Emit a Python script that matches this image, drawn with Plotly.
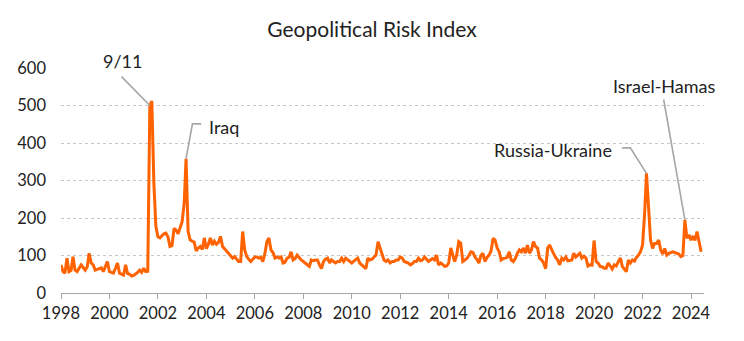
import pandas as pd
import plotly.graph_objects as go

start_month = "1998-01-01"

gpr_1998 = [75, 57, 53, 93, 57, 60, 97, 61, 57, 66, 75, 68]
gpr_1999 = [61, 70, 106, 80, 75, 61, 63, 65, 67, 57, 70, 84]
gpr_2000 = [57, 55, 53, 66, 80, 53, 50, 48, 75, 52, 50, 45]
gpr_2001 = [47, 50, 55, 61, 55, 66, 57, 58, 500, 512, 292, 178]
gpr_2002 = [150, 147, 152, 158, 160, 150, 124, 126, 172, 168, 158, 172]
gpr_2003 = [190, 240, 358, 164, 142, 138, 136, 112, 120, 124, 116, 147]
gpr_2004 = [118, 130, 147, 128, 138, 130, 135, 151, 124, 118, 112, 107]
gpr_2005 = [101, 93, 97, 90, 84, 84, 164, 115, 97, 90, 84, 90]
gpr_2006 = [96, 96, 93, 95, 84, 105, 137, 147, 115, 108, 93, 96]
gpr_2007 = [93, 96, 80, 82, 93, 95, 110, 88, 92, 101, 93, 88]
gpr_2008 = [84, 80, 76, 71, 88, 86, 88, 88, 75, 65, 84, 90]
gpr_2009 = [93, 80, 88, 85, 80, 84, 84, 93, 84, 93, 88, 85]
gpr_2010 = [80, 85, 88, 93, 80, 75, 70, 65, 93, 88, 90, 95]
gpr_2011 = [101, 137, 120, 106, 88, 84, 88, 80, 84, 84, 88, 88]
gpr_2012 = [96, 93, 84, 82, 80, 75, 78, 84, 84, 93, 86, 88]
gpr_2013 = [96, 90, 84, 88, 92, 88, 101, 75, 80, 76, 71, 72]
gpr_2014 = [80, 120, 100, 84, 101, 137, 133, 84, 88, 92, 100, 110]
gpr_2015 = [108, 96, 90, 80, 100, 106, 84, 95, 101, 112, 146, 141]
gpr_2016 = [120, 110, 88, 92, 93, 95, 110, 88, 84, 92, 106, 115]
gpr_2017 = [110, 120, 106, 128, 106, 115, 137, 124, 120, 93, 88, 80]
gpr_2018 = [65, 120, 128, 115, 105, 95, 88, 75, 93, 88, 96, 86]
gpr_2019 = [86, 88, 106, 96, 101, 106, 93, 98, 93, 72, 75, 74]
gpr_2020 = [140, 84, 80, 71, 70, 66, 66, 80, 72, 64, 75, 72]
gpr_2021 = [84, 93, 71, 65, 57, 88, 80, 88, 85, 95, 101, 110]
gpr_2022 = [128, 212, 319, 230, 141, 119, 132, 132, 141, 115, 104, 119]
gpr_2023 = [101, 106, 108, 110, 108, 106, 104, 97, 100, 195, 146, 155]
gpr_2024 = [141, 152, 140, 164, 140, 110]

values = (gpr_1998 + gpr_1999 + gpr_2000 + gpr_2001 + gpr_2002 + gpr_2003 +
          gpr_2004 + gpr_2005 + gpr_2006 + gpr_2007 + gpr_2008 + gpr_2009 +
          gpr_2010 + gpr_2011 + gpr_2012 + gpr_2013 + gpr_2014 + gpr_2015 +
          gpr_2016 + gpr_2017 + gpr_2018 + gpr_2019 + gpr_2020 + gpr_2021 +
          gpr_2022 + gpr_2023 + gpr_2024)
dates = pd.date_range(start_month, periods=len(values), freq="MS")

x_tick_years = [str(y) for y in range(1998, 2025, 2)]
y_ticks = [0, 100, 200, 300, 400, 500, 600]

# event labels
event_labels = ["9/11", "Iraq", "Russia-Ukraine", "Israel-Hamas"]
event_months = ["2001-09-01", "2003-03-01", "2022-03-01", "2023-10-01"]
event_values = [500, 358, 319, 195]
label_x = ["2000-07-15", "2004-01-15", "2020-11-01", "2022-12-01"]
label_y = [618, 443, 381, 552]
label_anchor = ["center", "left", "right", "center"]
# leader line paths (text end -> optional elbow -> event point)
leader_x = [["2000-07-01"], ["2003-10-15", "2003-06-05"], ["2021-02-25", "2021-07-01"], ["2022-11-15"]]
leader_y = [[577], [451, 451], [387, 387], [516]]

ORANGE = "#FF6200"
GREY = "#A6A6A6"
TEXT = "#222222"
FONT = "Lato"
Y_TOP = 600

fig = go.Figure()
fig.add_trace(go.Scatter(x=dates, y=values, mode="lines",
                         line=dict(color=ORANGE, width=3), hoverinfo="skip",
                         showlegend=False))

for i in range(len(event_labels)):
    xs = leader_x[i] + [event_months[i]]
    ys = leader_y[i] + [event_values[i]]
    fig.add_trace(go.Scatter(x=xs, y=ys, mode="lines", cliponaxis=False,
                             line=dict(color=GREY, width=1.6),
                             hoverinfo="skip", showlegend=False))
    # label positions expressed as fraction of y-axis (paper) so ones above the range still show
    fig.add_annotation(x=label_x[i], y=label_y[i] / Y_TOP, xref="x", yref="paper",
                       text=event_labels[i], showarrow=False,
                       xanchor=label_anchor[i], yanchor="middle",
                       font=dict(family=FONT, size=18, color=TEXT))

fig.update_layout(
    width=744, height=341,
    margin=dict(l=61, r=40, t=68, b=48),
    paper_bgcolor="white", plot_bgcolor="white",
    title=dict(text="Geopolitical Risk Index", x=0.5, xanchor="center",
               y=1 - 30 / 341, yanchor="middle",
               font=dict(family=FONT, size=21, color=TEXT)),
    font=dict(family=FONT, size=16, color=TEXT),
)
fig.update_xaxes(
    type="date", range=["1998-01-01", "2024-07-15"],
    tickvals=[f"{y}-01-01" for y in x_tick_years], ticktext=x_tick_years,
    showgrid=False, showline=True, linecolor=GREY, linewidth=1,
    ticks="outside", ticklen=5, tickcolor=GREY,
    tickfont=dict(family=FONT, size=16.5, color=TEXT), zeroline=False,
)
fig.update_yaxes(
    range=[0, Y_TOP], tickvals=y_ticks,
    showgrid=True, gridcolor="#C8C8C8", griddash="dot", gridwidth=1,
    zeroline=False, showline=False, ticks="",
    ticklabelstandoff=14,
    tickfont=dict(family=FONT, size=16.5, color=TEXT),
)

fig.write_html("out.html")
